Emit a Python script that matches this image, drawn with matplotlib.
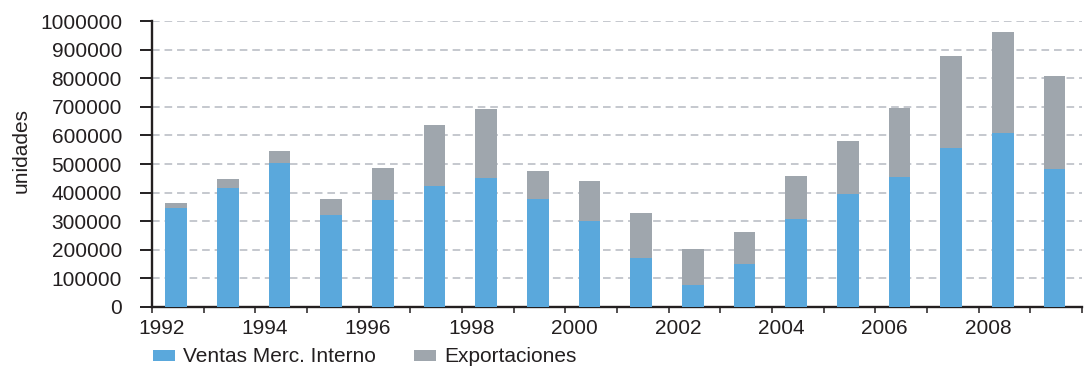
import numpy as np
import matplotlib
matplotlib.use("Agg")
import matplotlib.pyplot as plt
from matplotlib.ticker import FixedLocator, NullFormatter

plt.rcParams['font.family'] = ['Liberation Sans', 'DejaVu Sans']

years = list(range(1992, 2010))
ventas = [346000, 416000, 503000, 321000, 374000, 423000, 451000, 377000, 301000,
          172000, 76000, 151000, 307000, 396000, 455000, 557000, 609000, 483000]
exportaciones = [17000, 32000, 43000, 56000, 112000, 214000, 242000, 99000, 139000,
                 156000, 126000, 111000, 151000, 185000, 242000, 321000, 354000, 325000]
y_ticks = list(range(0, 1000001, 100000))

blue = '#5aa8dc'
gray = '#9fa6ad'
text_color = '#231f20'
fs = 15

fig = plt.figure(figsize=(10.91, 3.67), dpi=100)
ax = fig.add_axes([152 / 1091, (367 - 306.7) / 367, (1082 - 152) / 1091, (306.7 - 21.3) / 367])

idx = np.arange(len(years))
pos = idx + 0.47
width = 0.42
b1 = ax.bar(pos, ventas, width, color=blue, zorder=3, label='Ventas Merc. Interno')
b2 = ax.bar(pos, exportaciones, width, bottom=ventas, color=gray, zorder=3, label='Exportaciones')

ax.set_xlim(0, len(years))
ax.set_ylim(0, 1000000)

# horizontal dashed grid
ax.set_yticks(y_ticks)
ax.set_yticklabels([str(v) for v in y_ticks])
ax.yaxis.grid(True, linestyle=(0, (5, 3.2)), color='#b5b9c1', linewidth=1.1, zorder=0)
ax.set_axisbelow(True)

# year labels every two categories, ticks at every category boundary
ax.xaxis.set_major_locator(FixedLocator(idx[::2] + 0.18))
ax.set_xticklabels([str(y) for y in years[::2]])
ax.xaxis.set_minor_locator(FixedLocator(np.arange(0, len(years) + 1)))
ax.xaxis.set_minor_formatter(NullFormatter())
ax.tick_params(axis='x', which='major', length=0, pad=9, labelsize=fs, labelcolor=text_color)
ax.tick_params(axis='x', which='minor', length=4, width=1.1, direction='out', color='#231f20')
ax.tick_params(axis='y', which='major', length=8.6, width=1.4, direction='out', pad=13,
               labelsize=fs, labelcolor=text_color, color='#231f20')

for s in ['top', 'right']:
    ax.spines[s].set_visible(False)
for s in ['left', 'bottom']:
    ax.spines[s].set_linewidth(1.7)
    ax.spines[s].set_color('#231f20')

fig.text(21 / 1091, 1 - 150 / 367, 'unidades', rotation=90, ha='center', va='center',
         fontsize=fs, color=text_color)

fig.legend(handles=[b1, b2], loc='center left', bbox_to_anchor=(153 / 1091, 1 - 357 / 367),
           ncol=2, frameon=False, fontsize=fs, handlelength=1.06, handleheight=0.43,
           handletextpad=0.38, columnspacing=1.83, borderpad=0, borderaxespad=0,
           labelcolor=text_color)

fig.savefig('out.png', dpi=100)
